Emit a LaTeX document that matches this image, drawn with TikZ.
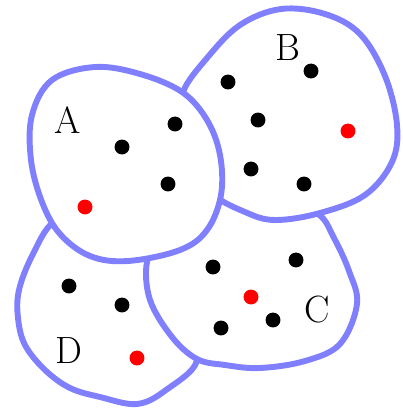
\documentclass[tikz,border=0pt]{standalone}
\usetikzlibrary{positioning}
\tikzset{
  region/.style={draw=blue!50,fill=white,line width=4.2pt,smooth cycle,tension=0.6},
  pt/.style={fill=black},
  rpt/.style={fill=red},
  lab/.style={font=\fontsize{27}{30}\selectfont}
}
\begin{document}
\begin{tikzpicture}[x=0.025cm,y=-0.025cm]
  \useasboundingbox (0,0) rectangle (402,408);
  % D: bottom left, under A and C
  \draw[region] plot coordinates
    {(53,223)(32,256)(19,290)(18,318)(25,345)(45,370)(70,388)(100,397)(137,404)(166,390)(197,360)
     (176,322)(160,272)(120,246)(80,228)};
  % C: bottom right, under A and B
  \draw[region] plot coordinates
    {(147,262)(150,300)(172,337)(197,359)(225,365)(260,368)(305,361)(340,344)(357,304)(349,271)(334,238)(318,214)
     (282,204)(245,198)(212,192)(190,222)(162,242)};
  % B: top right
  \draw[region] plot coordinates
    {(281,9)(325,14)(360,34)(385,76)(397,125)(392,162)(365,195)(320,213)(275,220)(245,212)(212,193)
     (194,158)(184,122)(183,92)(207,58)(240,25)};
  % A: top left
  \draw[region] plot coordinates
    {(95,67)(140,74)(182,92)(207,120)(220,155)(221,195)(207,230)(180,250)(128,261)(90,256)(60,234)(42,202)(31,160)(32,115)(52,80)};
  % points
  \foreach \p in {(122,147),(175,124),(168,184),
                  (228,82),(311,71),(258,120),(251,169),(304,184),
                  (213,267),(296,260),(221,328),(273,320),
                  (69,286),(122,305)}
    \fill[pt] \p circle (5.3pt);
  \foreach \p in {(85,207),(348,131),(251,297),(137,358)}
    \fill[rpt] \p circle (5.3pt);
  % labels
  \node[lab] (labA) at (68,120) {A};
  \node[lab] (labB) at (288,48) {B};
  \node[lab] (labC) at (317,310) {C};
  \node[lab] (labD) at (69,351) {D};
\end{tikzpicture}
\end{document}
